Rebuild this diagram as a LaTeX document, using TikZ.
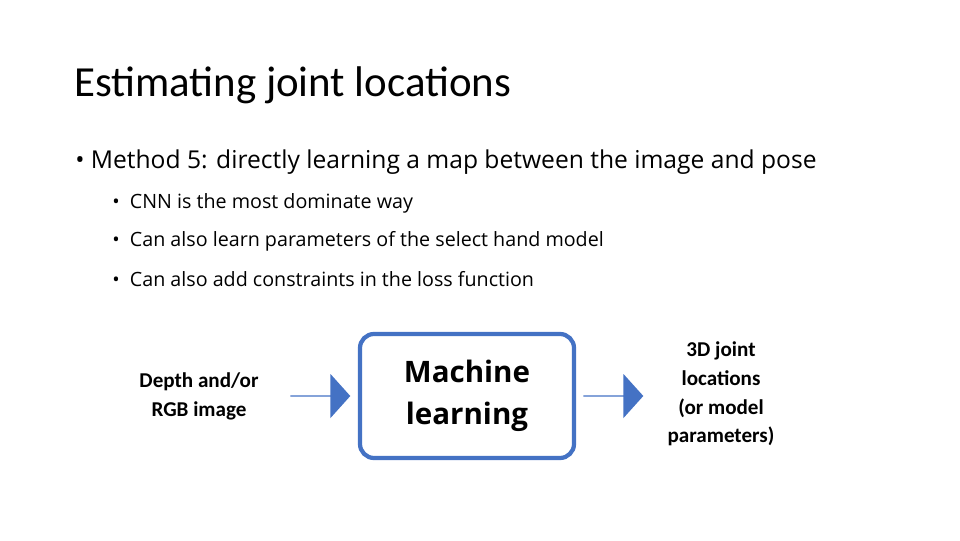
\documentclass[tikz,border=0pt]{standalone}
\usepackage{fontspec}
\setmainfont{Open Sans}
\newfontfamily\titlefont{Carlito}
\usetikzlibrary{shapes.arrows}
\definecolor{boxblue}{HTML}{4472C4}
\tikzset{
  bullet/.style={anchor=west, inner sep=0pt, font=\fontsize{17.5}{20}\selectfont},
  subbullet/.style={anchor=west, inner sep=0pt, font=\fontsize{14}{17}\selectfont},
  side/.style={align=center, inner sep=0pt, font=\titlefont\bfseries\fontsize{15}{20.5}\selectfont},
  flow/.style={single arrow, fill=boxblue, draw=none, minimum height=1.5cm, minimum width=1.1cm, single arrow head extend=0.225cm, single arrow tip angle=96, inner sep=0pt, anchor=west}
}
\begin{document}
\begin{tikzpicture}[x=0.025cm, y=-0.025cm]
  \useasboundingbox (0,0) rectangle (960,540);
  \node[anchor=base west, inner sep=0pt, font=\titlefont\fontsize{30.5}{34}\selectfont] (title) at (74,96) {Estimating joint locations};
  \node[bullet] (b1) at (75,162) {\textbullet\ Method 5: directly learning a map between the image and pose};
  \node[subbullet] (s1) at (112,203) {\textbullet\ \ CNN is the most dominate way};
  \node[subbullet] (s2) at (112,241) {\textbullet\ \ Can also learn parameters of the select hand model};
  \node[subbullet] (s3) at (112,279) {\textbullet\ \ Can also add constraints in the loss function};

  \node[side] (input) at (199,396) {Depth and/or\\RGB image};
  \node[draw=boxblue, line width=3pt, rounded corners=10pt, fill=white, minimum width=5.35cm, minimum height=3.1cm, align=center, font=\bfseries\fontsize{21}{30}\selectfont] (ml) at (467,396) {Machine\\learning};
  \node[side] (output) at (721,394) {3D joint\\locations\\(or model\\parameters)};
  \node[flow] (a1) at (290,396) {};
  \node[flow] (a2) at (583,396) {};
\end{tikzpicture}
\end{document}
